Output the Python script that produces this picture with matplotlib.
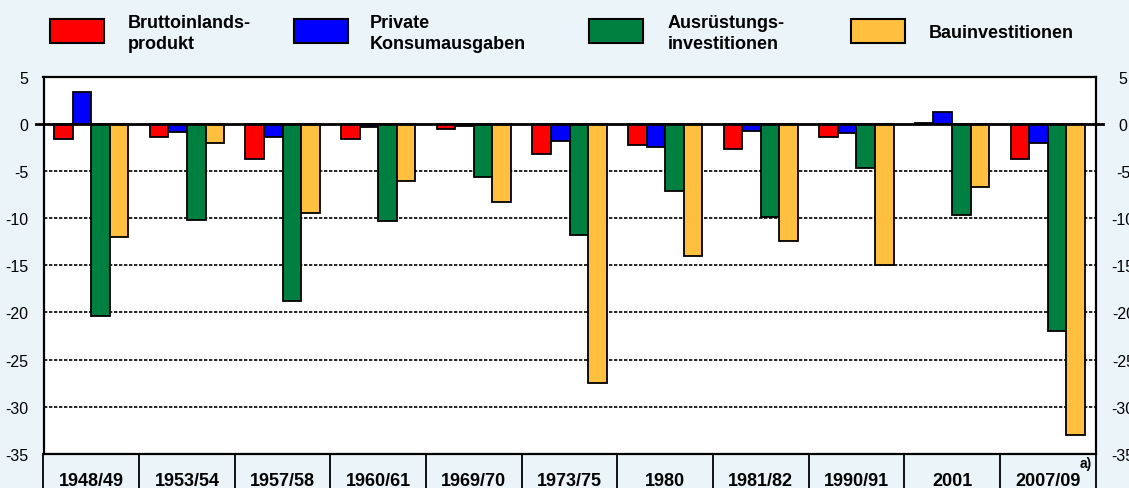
import matplotlib
matplotlib.use("Agg")
import matplotlib.pyplot as plt
import numpy as np
from matplotlib.patches import Rectangle
from matplotlib.transforms import blended_transform_factory

categories = ["1948/49", "1953/54", "1957/58", "1960/61", "1969/70", "1973/75",
              "1980", "1981/82", "1990/91", "2001", "2007/09"]
bip = [-1.6, -1.45, -3.7, -1.6, -0.6, -3.2, -2.3, -2.7, -1.4, 0.1, -3.7]
konsum = [3.4, -0.9, -1.4, -0.4, -0.25, -1.85, -2.45, -0.75, -1.0, 1.25, -2.0]
ausruestung = [-20.4, -10.2, -18.8, -10.3, -5.6, -11.8, -7.15, -9.9, -4.7, -9.7, -22.0]
bau = [-12.0, -2.0, -9.5, -6.05, -8.3, -27.5, -14.0, -12.4, -15.0, -6.75, -33.0]
series_names = ["Bruttoinlands-\nprodukt", "Private\nKonsumausgaben",
                "Ausrüstungs-\ninvestitionen", "Bauinvestitionen"]
yticks = [5, 0, -5, -10, -15, -20, -25, -30, -35]

colors = ["#ff0000", "#0000ff", "#008040", "#ffc040"]
bg = "#ebf5f9"

W, H = 1129, 489
fig = plt.figure(figsize=(W / 100, H / 100), dpi=100, facecolor=bg)
plt.rcParams['font.family'] = ['Liberation Sans', 'DejaVu Sans']

ax_l, ax_r, ax_t, ax_b = 43.5, 1095.5, 77.5, 455
ax = fig.add_axes([ax_l / W, 1 - ax_b / H, (ax_r - ax_l) / W, (ax_b - ax_t) / H])
ax.set_facecolor("white")

n = len(categories)
x = np.arange(n)
bw = 0.194
allseries = [bip, konsum, ausruestung, bau]
for i, (vals, c) in enumerate(zip(allseries, colors)):
    ax.bar(x + (i - 1.5) * bw, vals, width=bw, color=c, edgecolor="black",
           linewidth=1.3, zorder=3)

ax.set_xlim(-0.5, n - 0.5)
ax.set_ylim(-35, 5)

# dotted grid lines
for yv in yticks:
    if yv not in (5, 0, -35):
        ax.axhline(yv, color="black", linewidth=1.2, linestyle=(0, (2, 1)), zorder=1)
# zero line extending beyond axes
ax.axhline(0, xmin=-0.007, xmax=1.007, color="black", linewidth=2.0, zorder=4, clip_on=False)

for s in ax.spines.values():
    s.set_linewidth(1.6)
    s.set_color("black")

ax.set_yticks(yticks)
ax.set_yticklabels([str(v) for v in yticks], fontsize=11.5)
ax.tick_params(axis="y", length=0, pad=11)

# category boundaries as minor ticks, labels at centers
ax.set_xticks(x)
ax.set_xticklabels([])
ax.set_xticks(np.arange(-0.5, n, 1.0), minor=True)
ax.tick_params(axis="x", which="major", length=0)
ax.tick_params(axis="x", which="minor", length=26, width=1.3, color="black", direction="out")

trans = blended_transform_factory(ax.transData, ax.transAxes)
lab_y = -(486 - ax_b) / (ax_b - ax_t)
for xi, lab in zip(x, categories):
    ax.text(xi, lab_y, lab, ha="center", va="baseline", fontsize=13,
            fontweight="bold", transform=trans, clip_on=False)
sup_y = -(468 - ax_b) / (ax_b - ax_t)
ax.text(n - 1 + 0.33, sup_y, "a)", ha="left", va="baseline", fontsize=10,
        fontweight="bold", transform=trans, clip_on=False)

# right-hand labels (cut by figure edge, as in the original)
ax2 = ax.twinx()
ax2.set_ylim(-35, 5)
ax2.set_yticks(yticks)
ax2.set_yticklabels([str(v) for v in yticks], fontsize=11.5)
for t in ax2.get_yticklabels():
    t.set_horizontalalignment("center")
ax2.tick_params(axis="y", length=0, pad=20)
for s in ax2.spines.values():
    s.set_visible(False)

# legend drawn manually
def fx(px):
    return px / W

def fy(py):
    return 1 - py / H

patch_x = [49.5, 293.5, 588.5, 850.5]
text_x = [128, 370, 668, 929]
for name, c, px, tx in zip(series_names, colors, patch_x, text_x):
    fig.patches.append(Rectangle((fx(px), fy(43.7)), fx(54), 23.7 / H,
                                 facecolor=c, edgecolor="black", linewidth=1.5,
                                 transform=fig.transFigure, figure=fig))
    lines = name.split("\n")
    if len(lines) == 2:
        fig.text(fx(tx), fy(28), lines[0], fontsize=13, fontweight="bold",
                 ha="left", va="baseline")
        fig.text(fx(tx), fy(49), lines[1], fontsize=13, fontweight="bold",
                 ha="left", va="baseline")
    else:
        fig.text(fx(tx), fy(37.7), lines[0], fontsize=13, fontweight="bold",
                 ha="left", va="baseline")

fig.savefig("out.png", dpi=100, facecolor=bg)
